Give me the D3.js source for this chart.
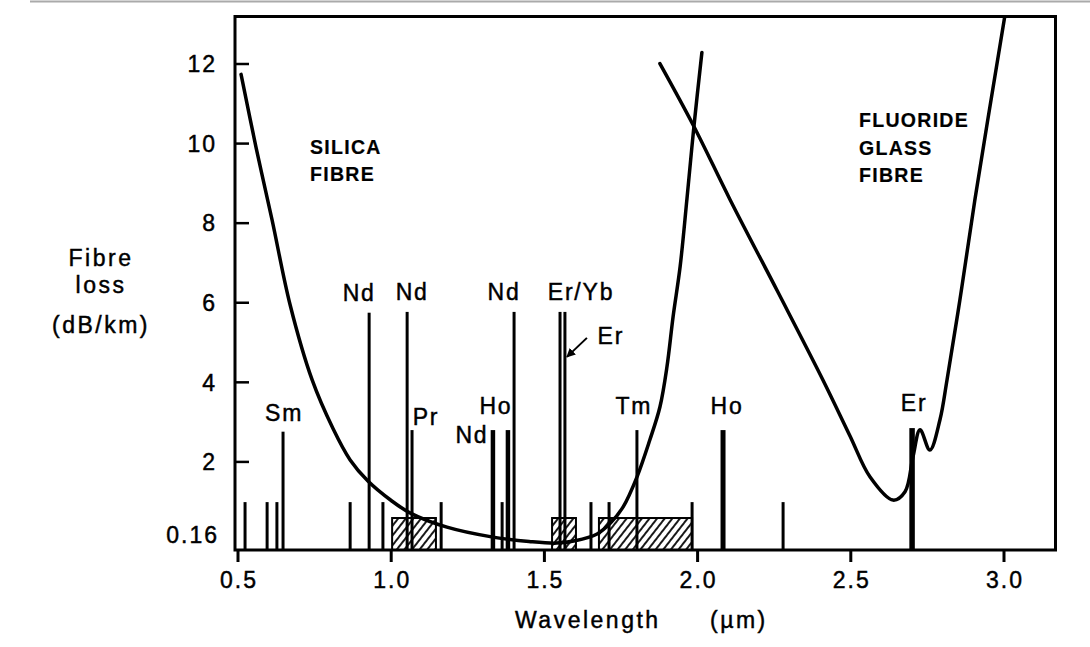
<!DOCTYPE html>
<html>
<head>
  <meta charset="utf-8">
  <script src="https://d3js.org/d3.v7.min.js"></script>
  <style>
    body { margin: 0; background: #fff; }
    svg { display: block; }
    text { font-family: "Liberation Sans", Arial, sans-serif; fill: #000; stroke: #000; stroke-width: 0.45px; }
    .tick-label { font-size: 23px; letter-spacing: 2px; }
    .line-label { font-size: 23px; letter-spacing: 1.8px; }
    .title { font-size: 23px; letter-spacing: 2.5px; }
    .fibre { font-size: 19.5px; font-weight: bold; letter-spacing: 1.3px; stroke-width: 0.2px; }
  </style>
</head>
<body>
<script>
  // ---- data ----
  var xTicks = [0.5, 1.0, 1.5, 2.0, 2.5, 3.0];
  var yTicks = [2, 4, 6, 8, 10, 12];

  // silica fibre loss curve (um, dB/km)
  var silicaWl   = [0.510, 0.559, 0.611, 0.670, 0.742, 0.810, 0.866, 0.924, 1.000, 1.061, 1.182, 1.332,
                    1.450, 1.540, 1.600, 1.672, 1.714, 1.757, 1.802, 1.844, 1.877, 1.900, 1.920,
                    1.943, 1.965, 1.988, 2.014];
  var silicaLoss = [11.74, 9.90, 8.09, 5.95, 4.06, 2.84, 2.05, 1.52, 1.03, 0.72, 0.36, 0.11,
                    0.00, -0.04, 0.02, 0.19, 0.45, 0.87, 1.62, 2.55, 3.38, 4.39, 5.65,
                    6.91, 8.59, 10.43, 12.29];

  // fluoride glass fibre loss curve
  var fluorideWl   = [1.877, 1.988, 2.106, 2.260, 2.409, 2.497, 2.563, 2.638, 2.677, 2.703, 2.726,
                      2.758, 2.791, 2.814, 2.856, 2.905, 3.003];
  var fluorideLoss = [12.01, 10.43, 8.59, 6.30, 4.06, 2.66, 1.62, 1.04, 1.25, 2.13, 2.81,
                      2.30, 3.06, 4.06, 6.07, 8.59, 13.22];

  // laser emission lines: wavelength, drawn height, ion label
  var lineWl   = [0.523, 0.595, 0.627, 0.647, 0.866, 0.928, 0.973, 1.052, 1.068, 1.163, 1.332, 1.362,
                  1.381, 1.401, 1.551, 1.567, 1.652, 1.711, 1.802, 1.982, 2.083, 2.279, 2.700];
  var lineTop  = [0.99, 0.99, 0.99, 2.76, 0.99, 5.75, 0.99, 5.77, 2.80, 0.99, 2.80, 0.99,
                  2.80, 5.77, 5.77, 5.77, 0.99, 0.99, 2.80, 0.99, 2.80, 0.99, 2.85];
  var lineName = ["", "", "", "Sm", "", "Nd", "", "Nd", "Pr", "", "Nd", "",
                  "Ho", "Nd", "Er/Yb", "Er", "", "", "Tm", "", "Ho", "", "Er"];

  // hatched bands (start, end wavelength, height)
  var bandStart = [1.003, 1.525, 1.678];
  var bandEnd   = [1.146, 1.603, 1.982];
  var bandTop   = [0.59, 0.59, 0.59];

  // ---- layout ----
  var width = 1090, height = 647;
  var frame = {left: 235, right: 1055.5, top: 16.5, bottom: 550};

  var x = d3.scaleLinear().domain([0.5, 3.0]).range([238, 1004]);
  var y = d3.scaleLinear().domain([0, 12]).range([541.5, 64]);

  var svg = d3.select("body").append("svg")
      .attr("width", width)
      .attr("height", height);

  svg.append("rect").attr("width", width).attr("height", height).attr("fill", "#fff");

  // faint scan edge at the very top
  svg.append("line")
      .attr("x1", 30).attr("x2", 1090).attr("y1", 1.5).attr("y2", 1.5)
      .attr("stroke", "#aaa").attr("stroke-width", 2);

  var defs = svg.append("defs");
  defs.append("pattern")
      .attr("id", "hatch")
      .attr("patternUnits", "userSpaceOnUse")
      .attr("width", 6).attr("height", 10)
      .attr("patternTransform", "rotate(38)")
    .append("line")
      .attr("x1", 3).attr("x2", 3).attr("y1", 0).attr("y2", 10)
      .attr("stroke", "#000").attr("stroke-width", 1.8);

  defs.append("clipPath").attr("id", "plot-clip")
    .append("rect")
      .attr("x", frame.left).attr("y", frame.top)
      .attr("width", frame.right - frame.left)
      .attr("height", frame.bottom - frame.top);

  defs.append("marker")
      .attr("id", "arrow")
      .attr("viewBox", "0 0 10 10")
      .attr("refX", 9).attr("refY", 5)
      .attr("markerWidth", 4.5).attr("markerHeight", 4.5)
      .attr("orient", "auto")
    .append("path")
      .attr("d", "M0,0L10,5L0,10z")
      .attr("fill", "#000");

  // hatched bands
  var bands = svg.append("g");
  bandStart.forEach(function(s, i) {
    var bx = x(s), bw = x(bandEnd[i]) - x(s), by = y(bandTop[i]);
    bands.append("rect")
        .attr("x", bx).attr("y", by)
        .attr("width", bw).attr("height", frame.bottom - by)
        .attr("fill", "url(#hatch)")
        .attr("stroke", "#000").attr("stroke-width", 2);
  });

  // emission lines
  var heavy = {10: 4.5, 12: 4.5, 20: 5, 22: 5.5};
  var lines = svg.append("g");
  lineWl.forEach(function(w, i) {
    lines.append("line")
        .attr("x1", x(w)).attr("x2", x(w))
        .attr("y1", frame.bottom).attr("y2", y(lineTop[i]))
        .attr("stroke", "#000")
        .attr("stroke-width", heavy[i] || 3);
  });

  // label offsets from the top of each line (dx, dy to baseline)
  var labelShift = {
    3: [1, -11], 5: [-10, -12], 7: [5, -12], 8: [14, -5], 10: [-21, 13],
    12: [-12, -16], 13: [-10, -12], 14: [21, -12], 15: [46, 32],
    18: [-3, -16], 20: [4, -16], 22: [2, -17]
  };
  lineName.forEach(function(n, i) {
    if (!n) return;
    var s = labelShift[i];
    svg.append("text")
        .attr("class", "line-label")
        .attr("x", x(lineWl[i]) + s[0])
        .attr("y", y(lineTop[i]) + s[1])
        .attr("text-anchor", "middle")
        .text(n);
  });

  // arrow pointing at the Er line
  svg.append("line")
      .attr("x1", x(1.567) + 22).attr("y1", y(4.64) - 19)
      .attr("x2", x(1.567) + 2).attr("y2", y(4.64))
      .attr("stroke", "#000").attr("stroke-width", 2)
      .attr("marker-end", "url(#arrow)");

  // loss curves
  var curve = d3.line()
      .x(function(d) { return x(d[0]); })
      .y(function(d) { return y(d[1]); })
      .curve(d3.curveCatmullRom.alpha(0.5));

  var curves = svg.append("g").attr("clip-path", "url(#plot-clip)");
  curves.append("path")
      .datum(d3.zip(silicaWl, silicaLoss))
      .attr("d", curve)
      .attr("fill", "none").attr("stroke", "#000")
      .attr("stroke-width", 3.5).attr("stroke-linecap", "round");
  curves.append("path")
      .datum(d3.zip(fluorideWl, fluorideLoss))
      .attr("d", curve)
      .attr("fill", "none").attr("stroke", "#000")
      .attr("stroke-width", 3.5).attr("stroke-linecap", "round");

  // frame
  svg.append("rect")
      .attr("x", frame.left).attr("y", frame.top)
      .attr("width", frame.right - frame.left)
      .attr("height", frame.bottom - frame.top)
      .attr("fill", "none").attr("stroke", "#000").attr("stroke-width", 3);

  // y ticks (inside) and labels
  yTicks.forEach(function(t) {
    svg.append("line")
        .attr("x1", frame.left).attr("x2", frame.left + 14)
        .attr("y1", y(t)).attr("y2", y(t))
        .attr("stroke", "#000").attr("stroke-width", 2.5);
    svg.append("text")
        .attr("class", "tick-label")
        .attr("x", 217).attr("y", y(t)).attr("dy", "0.36em")
        .attr("text-anchor", "end")
        .text(t);
  });
  svg.append("text")
      .attr("class", "tick-label")
      .attr("x", 219).attr("y", y(0.16)).attr("dy", "0.36em")
      .attr("text-anchor", "end")
      .text("0.16");

  // x ticks (outside) and labels
  xTicks.forEach(function(t) {
    svg.append("line")
        .attr("x1", x(t)).attr("x2", x(t))
        .attr("y1", frame.bottom).attr("y2", frame.bottom + 12)
        .attr("stroke", "#000").attr("stroke-width", 3);
    svg.append("text")
        .attr("class", "tick-label")
        .attr("x", x(t) + 1).attr("y", 588)
        .attr("text-anchor", "middle")
        .text(t.toFixed(1));
  });

  // axis titles
  svg.append("text").attr("class", "title")
      .attr("x", 515).attr("y", 628).text("Wavelength");
  svg.append("text").attr("class", "title")
      .attr("x", 710).attr("y", 628).text("(\u00b5m)");

  var yTitle = ["Fibre", "loss", "(dB/km)"], yTitleBase = [266, 293, 333];
  yTitle.forEach(function(t, i) {
    svg.append("text").attr("class", "title")
        .attr("x", 101).attr("y", yTitleBase[i])
        .attr("text-anchor", "middle")
        .text(t);
  });

  // curve names
  [["SILICA", 154], ["FIBRE", 181]].forEach(function(d) {
    svg.append("text").attr("class", "fibre")
        .attr("x", 310).attr("y", d[1]).text(d[0]);
  });
  [["FLUORIDE", 127], ["GLASS", 155], ["FIBRE", 182]].forEach(function(d) {
    svg.append("text").attr("class", "fibre")
        .attr("x", 859).attr("y", d[1]).text(d[0]);
  });
</script>
</body>
</html>
